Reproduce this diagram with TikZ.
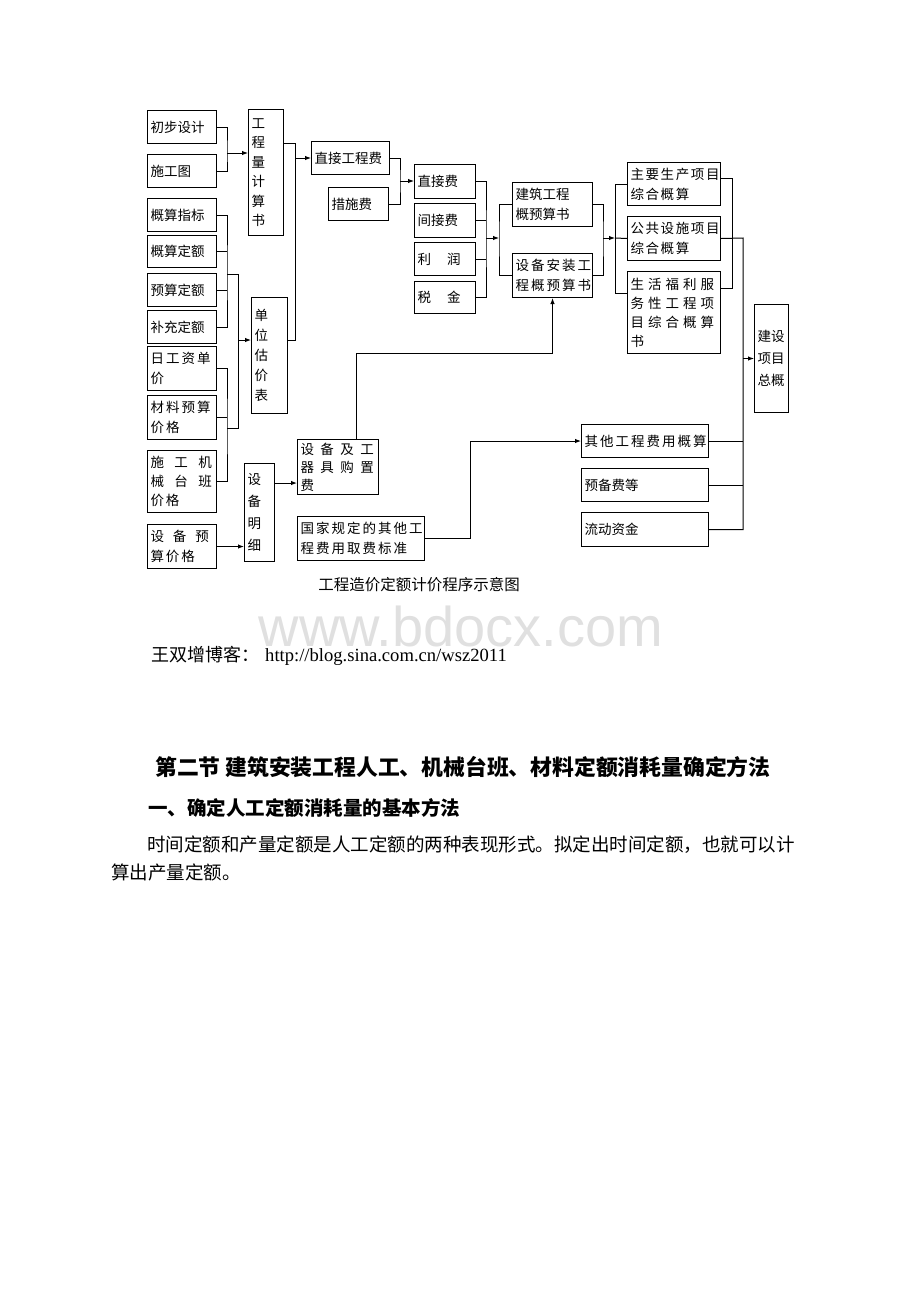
\documentclass[tikz,border=0pt]{standalone}
\usepackage{fontspec}
\setmainfont{Liberation Serif}
\newfontfamily\cjk{Noto Sans CJK SC}
\newfontfamily\wmfont{Liberation Sans}
\usetikzlibrary{arrows.meta}
\tikzset{font={\cjk\fontsize{13.5pt}{20pt}\selectfont}}
\tikzset{
  box/.style={draw, line width=1pt, anchor=north west, align=left, inner xsep=3pt, inner ysep=0pt},
  ls/.style={font={\cjk\fontsize{13.5pt}{20pt}\selectfont\addfontfeature{LetterSpace=#1}}},
  vt/.style={font={\cjk\fontsize{13.5pt}{#1}\selectfont}},
  link/.style={line width=1pt},
  arr/.style={-{Latex[length=6pt,width=4.5pt]}}
}

\begin{document}
\begin{tikzpicture}[x=1pt, y=-1pt]
      \useasboundingbox (0,0) rectangle (920,1302);
      %left column
      \node[box, text width=63pt, minimum height=33pt] (cbsj) at (147,110) {初步设计};
      \node[box, text width=63pt, minimum height=33pt] (sgt) at (147,154) {施工图};
      \node[box, text width=63pt, minimum height=33pt] (gszb) at (147,198) {概算指标};
      \node[box, text width=63pt, minimum height=32pt] (gsde) at (147,235) {概算定额};
      \node[box, text width=63pt, minimum height=33pt] (ysde) at (147,273) {预算定额};
      \node[box, text width=63pt, minimum height=33pt] (bcde) at (147,310) {补充定额};
      \node[box, ls=15, text width=63pt, minimum height=44pt] (rgz) at (147,346) {日工资单\\价};
      \node[box, ls=15, text width=63pt, minimum height=44pt] (clys) at (147,395) {材料预算\\价格};
      \node[box, vt=19pt, text width=63pt, minimum height=62pt] (sgjx) at (147,450) {施\hspace{10.5pt}工\hspace{10.5pt}机\\械\hspace{10.5pt}台\hspace{10.5pt}班\\价\hspace{2pt}格};
      \node[box, text width=63pt, minimum height=44pt] (sbys) at (147,524) {设\hspace{9pt}备\hspace{9pt}预\\算\hspace{2pt}价\hspace{2pt}格};
      %vertical boxes
      \node[box, vt=19.5pt, text width=29pt, minimum height=126pt] (gcl) at (248,109) {工\\程\\量\\计\\算\\书};
      \node[box, vt=20pt, text width=30pt, minimum height=116pt] (dwgj) at (251,297) {单\\位\\估\\价\\表};
      \node[box, vt=22pt, text width=24pt, minimum height=98pt] (sbmx) at (244,463) {设\\备\\明\\细};
      %fee boxes
      \node[box, text width=72pt, minimum height=33pt] (zjgc) at (311,141) {直接工程费};
      \node[box, text width=54pt, minimum height=33pt] (csf) at (328,187) {措施费};
      \node[box, text width=55pt, minimum height=34pt] (zjf) at (414,164) {直接费};
      \node[box, text width=55pt, minimum height=34pt] (jjf) at (414,203) {间接费};
      \node[box, text width=55pt, minimum height=33pt] (lr) at (414,242) {利\hspace{16pt}润};
      \node[box, text width=55pt, minimum height=32pt] (sj) at (414,281) {税\hspace{16pt}金};
      \node[box, text width=74pt, minimum height=44pt] (jzgc) at (512,182) {建筑工程\\概预算书};
      \node[box, ls=15, text width=74pt, minimum height=44pt] (sbaz) at (512,253) {设备安装工\\程概预算书};
      %summary boxes
      \node[box, ls=12, text width=87pt, minimum height=43pt] (zysc) at (627,162) {主要生产项目\\综合概算};
      \node[box, ls=12, text width=87pt, minimum height=44pt] (ggss) at (627,216) {公共设施项目\\综合概算};
      \node[box, font={\cjk\fontsize{13.5pt}{19pt}\selectfont\addfontfeature{LetterSpace=30}}, text width=87pt, minimum height=82pt] (shfl) at (627,271) {生活福利服\\务性工程项\\目综合概算\\书};
      \node[box, vt=22pt, text width=28pt, minimum height=108pt] (jsxm) at (754,304) {建设\\项目\\总概};
      %equipment and other costs
      \node[box, font={\cjk\fontsize{13.5pt}{18pt}\selectfont\addfontfeature{LetterSpace=48}}, text width=75pt, minimum height=55pt] (sbgz) at (297,439) {设备及工\\器具购置\\费};
      \node[box, ls=15, text width=121pt, minimum height=44pt] (gjgd) at (297,516) {国家规定的其他工\\程费用取费标准};
      \node[box, ls=15, text width=121pt, minimum height=33pt] (qtgc) at (581,424) {其他工程费用概算};
      \node[box, text width=121pt, minimum height=33pt] (ybf) at (581,468) {预备费等};
      \node[box, text width=121pt, minimum height=34pt] (ldzj) at (581,512) {流动资金};

      %inputs to 工程量计算书
      \coordinate (j1) at (227,153);
      \draw[link] (cbsj.east) -| (j1) |- (sgt.east);
      \draw[link,arr] (j1) -- (j1 -| gcl.west);
      %inputs to 单位估价表
      \coordinate (j2) at (227,274);
      \draw[link] (gszb.east) -| (j2) |- (bcde.east);
      \draw[link] (gsde.east) -- (gsde.east -| j2);
      \draw[link] (ysde.east) -- (ysde.east -| j2);
      \coordinate (j3) at (227,428);
      \draw[link] (rgz.east) -| (j3) |- (sgjx.east);
      \draw[link] (clys.east) -- (clys.east -| j3);
      \coordinate (j4a) at (238,274);
      \coordinate (j4b) at (238,428);
      \coordinate (j4c) at (238,340);
      \draw[link] (j2) -- (j4a) -- (j4b) -- (j3);
      \draw[link,arr] (j4c) -- (j4c -| dwgj.west);
      %to 直接工程费
      \coordinate (j5a) at (295,143);
      \coordinate (j5b) at (295,340);
      \draw[link] (j5a -| gcl.east) -- (j5a) -- (j5b) -- (j5b -| dwgj.east);
      \draw[link,arr] (j5a |- zjgc.west) -- (zjgc.west);
      %to 直接费
      \coordinate (j6) at (400,181);
      \draw[link] (zjgc.east) -| (j6) |- (csf.east);
      \draw[link,arr] (j6) -- (j6 -| zjf.west);
      %to 概预算书
      \coordinate (j7) at (486,238);
      \coordinate (j8) at (499,238);
      \draw[link] (zjf.east) -| (j7) |- (sj.east);
      \draw[link] (jjf.east) -- (jjf.east -| j7);
      \draw[link] (lr.east) -- (lr.east -| j7);
      \draw[link,arr] (j7) -- (j8);
      \draw[link] (jzgc.west) -| (j8) |- (sbaz.west);
      %to 综合概算
      \coordinate (j9) at (603,238);
      \coordinate (j10) at (615,238);
      \coordinate (j10b) at (615,293);
      \draw[link] (jzgc.east) -| (j9) |- (sbaz.east);
      \draw[link,arr] (j9) -- (j10);
      \draw[link] (zysc.west) -| (j10b) -- (j10b -| shfl.west);
      \draw[link] (j10) -- (ggss.west);
      %to 建设项目总概
      \coordinate (j11a) at (732,178);
      \coordinate (j11b) at (732,288);
      \draw[link] (j11a -| zysc.east) -- (j11a) -- (j11b) -- (j11b -| shfl.east);
      \coordinate (j12) at (743,238);
      \draw[link] (ggss.east) -- (j12) |- (ldzj.east);
      \draw[link] (qtgc.east) -- (qtgc.east -| j12);
      \draw[link] (ybf.east) -- (ybf.east -| j12);
      \draw[link,arr] (j12 |- jsxm.west) -- (jsxm.west);
      %equipment path
      \draw[link,arr] (sbys.east) -- (sbys.east -| sbmx.west);
      \coordinate (j14) at (285,483);
      \draw[link,arr] (j14 -| sbmx.east) -- (j14 -| sbgz.west);
      \coordinate (j15) at (356,353);
      \draw[link,arr] (j15 |- sbgz.north) -- (j15) -| (sbaz.south);
      \coordinate (j16) at (470,441);
      \draw[link,arr] (gjgd.east) -| (j16) -- (j16 -| qtgc.west);

      %caption and page text
      \node[font={\cjk\fontsize{15.5pt}{16pt}\selectfont}] (cap) at (419,585) {工程造价定额计价程序示意图};
      \node[text=black!12, font={\wmfont\fontsize{56pt}{56pt}\selectfont}] (wm) at (461,626) {www.bdocx.com};
      \node[anchor=west, inner sep=0pt, font={\cjk\fontsize{18pt}{18pt}\selectfont}] (blog) at (151,656) {王双增博客：\hspace{6pt}{\rmfamily\fontsize{18.6pt}{19pt}\selectfont http://blog.sina.com.cn/wsz2011}};
      \node[anchor=west, inner sep=0pt, font={\cjk\bfseries\fontsize{21.8pt}{23pt}\selectfont}] (sec) at (155,767) {第二节 建筑安装工程人工、机械台班、材料定额消耗量确定方法};
      \node[anchor=west, inner sep=0pt, font={\cjk\bfseries\fontsize{19.5pt}{20pt}\selectfont}] (sub) at (148,808) {一、确定人工定额消耗量的基本方法};
      \node[anchor=west, inner sep=0pt, font={\cjk\fontsize{18.5pt}{19pt}\selectfont}] (para1) at (147,845) {时间定额和产量定额是人工定额的两种表现形式。拟定出时间定额，也就可以计};
      \node[anchor=west, inner sep=0pt, font={\cjk\fontsize{18.5pt}{19pt}\selectfont}] (para2) at (111,872) {算出产量定额。};
    \end{tikzpicture}
\end{document}
